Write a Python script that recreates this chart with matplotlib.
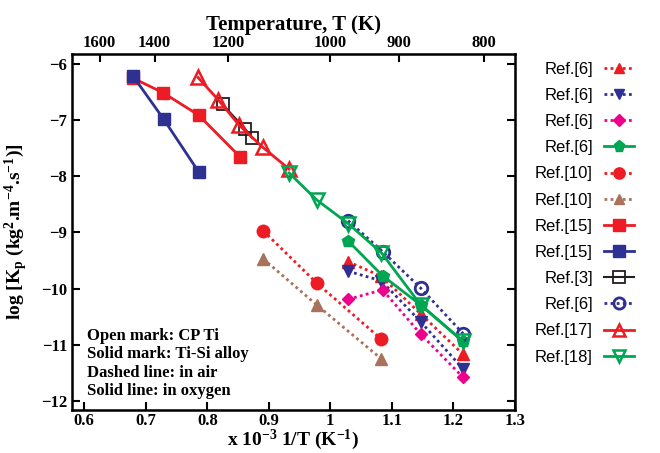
import matplotlib
matplotlib.use("Agg")
import matplotlib.pyplot as plt

plt.rcParams['font.family'] = 'Liberation Serif'
plt.rcParams['font.weight'] = 'bold'
plt.rcParams['mathtext.fontset'] = 'custom'
plt.rcParams['mathtext.rm'] = 'Liberation Serif:bold'
plt.rcParams['mathtext.it'] = 'Liberation Serif:bold'
plt.rcParams['mathtext.default'] = 'rm'

# data (x = 1000/T, y = log Kp)
r6a_x = [1.029, 1.083, 1.147, 1.216]
r6a_y = [-9.52, -9.78, -10.45, -11.17]
r6b_x = [1.029, 1.083, 1.147, 1.216]
r6b_y = [-9.69, -9.86, -10.59, -11.43]
r6c_x = [1.029, 1.085, 1.147, 1.216]
r6c_y = [-10.19, -10.02, -10.81, -11.58]
r6d_x = [1.029, 1.085, 1.147, 1.216]
r6d_y = [-9.15, -9.77, -10.29, -10.94]
r10a_x = [0.891, 0.978, 1.083]
r10a_y = [-8.97, -9.90, -10.90]
r10b_x = [0.891, 0.978, 1.083]
r10b_y = [-9.47, -10.29, -11.25]
r15a_x = [0.679, 0.728, 0.786, 0.853]
r15a_y = [-6.25, -6.51, -6.91, -7.65]
r15b_x = [0.679, 0.729, 0.786]
r15b_y = [-6.21, -6.98, -7.92]
r3_x = [0.825, 0.862, 0.873]
r3_y = [-6.72, -7.16, -7.32]
r6e_x = [1.029, 1.085, 1.147, 1.216]
r6e_y = [-8.79, -9.34, -9.99, -10.80]
r17_x = [0.785, 0.818, 0.852, 0.890, 0.933]
r17_y = [-6.24, -6.64, -7.09, -7.48, -7.87]
r18_x = [0.933, 0.978, 1.029, 1.083, 1.147, 1.216]
r18_y = [-7.94, -8.42, -8.84, -9.36, -10.29, -10.94]

temps = [1600, 1400, 1200, 1000, 900, 800]

red = '#ed1c24'
blue = '#2e3192'
pink = '#ec008c'
green = '#00a651'
brown = '#a8735a'
dot = (0, (1, 1.2))

fig = plt.figure(figsize=(6.6, 4.53), dpi=100)
ax = fig.add_axes([0.109, 0.095, 0.671, 0.786])

ax.plot(r6a_x, r6a_y, color=red, ls=dot, lw=2, marker='^', ms=8, label='Ref.[6]')
ax.plot(r6b_x, r6b_y, color=blue, ls=dot, lw=2, marker='v', ms=8, label='Ref.[6]')
ax.plot(r6c_x, r6c_y, color=pink, ls=dot, lw=2, marker='D', ms=6.5, label='Ref.[6]')
ax.plot(r6d_x, r6d_y, color=green, ls='-', lw=2, marker='p', ms=9, label='Ref.[6]')
ax.plot(r10a_x, r10a_y, color=red, ls=dot, lw=2, marker='o', ms=9, label='Ref.[10]')
ax.plot(r10b_x, r10b_y, color=brown, ls=dot, lw=2, marker='^', ms=8, label='Ref.[10]')
ax.plot(r15a_x, r15a_y, color=red, ls='-', lw=2, marker='s', ms=9, label='Ref.[15]')
ax.plot(r15b_x, r15b_y, color=blue, ls='-', lw=2, marker='s', ms=9, label='Ref.[15]')
ax.plot(r3_x, r3_y, color='#231f20', ls='-', lw=1.5, marker='s', ms=9, mfc='none', mew=1.3, label='Ref.[3]')
ax.plot(r6e_x, r6e_y, color=blue, ls=dot, lw=2, marker='o', ms=9, mfc='none', mew=2, label='Ref.[6]')
ax.plot(r17_x, r17_y, color=red, ls='-', lw=2, marker='^', ms=10, mfc='none', mew=1.8, label='Ref.[17]')
ax.plot(r18_x, r18_y, color=green, ls='-', lw=2, marker='v', ms=10, mfc='none', mew=1.8, label='Ref.[18]')

ax.set_xlim(0.58, 1.3)
ax.set_ylim(-12.16, -5.82)
ax.set_xticks([0.6, 0.7, 0.8, 0.9, 1.0, 1.1, 1.2, 1.3])
ax.set_xticklabels(['0.6', '0.7', '0.8', '0.9', '1', '1.1', '1.2', '1.3'])
ax.set_yticks([-6, -7, -8, -9, -10, -11, -12])
ax.tick_params(direction='in', length=6, width=1.5, labelsize=12, top=False, right=True)
ax.tick_params(axis='x', pad=2)
for s in ax.spines.values():
    s.set_linewidth(1.8)

ax.set_xlabel('x 10$^{-3}$ 1/T (K$^{-1}$)', fontsize=14, fontweight='bold', labelpad=-1)
ax.set_ylabel('log [K$_p$ (kg$^2$.m$^{-4}$.s$^{-1}$)]', fontsize=14, fontweight='bold', labelpad=8)

ax2 = ax.twiny()
ax2.set_xlim(ax.get_xlim())
ax2.set_xticks([1000.0 / t for t in temps])
ax2.set_xticklabels([str(t) for t in temps])
ax2.tick_params(direction='in', length=6, width=1.5, labelsize=12, pad=2)
ax2.set_xlabel('Temperature, T (K)', fontsize=15, fontweight='bold', labelpad=4)

ax.text(0.033, 0.03, 'Open mark: CP Ti\nSolid mark: Ti-Si alloy\nDashed line: in air\nSolid line: in oxygen',
        transform=ax.transAxes, fontsize=12, fontweight='bold', linespacing=1.2, va='bottom')

leg = ax.legend(loc='upper left', bbox_to_anchor=(1.012, 1.02), frameon=False, markerfirst=False,
                handlelength=1.8, handletextpad=0.65, labelspacing=0.67, markerscale=0.9,
                prop={'family': 'Liberation Sans', 'size': 12, 'weight': 'normal'})

fig.savefig('out.png', dpi=100)
